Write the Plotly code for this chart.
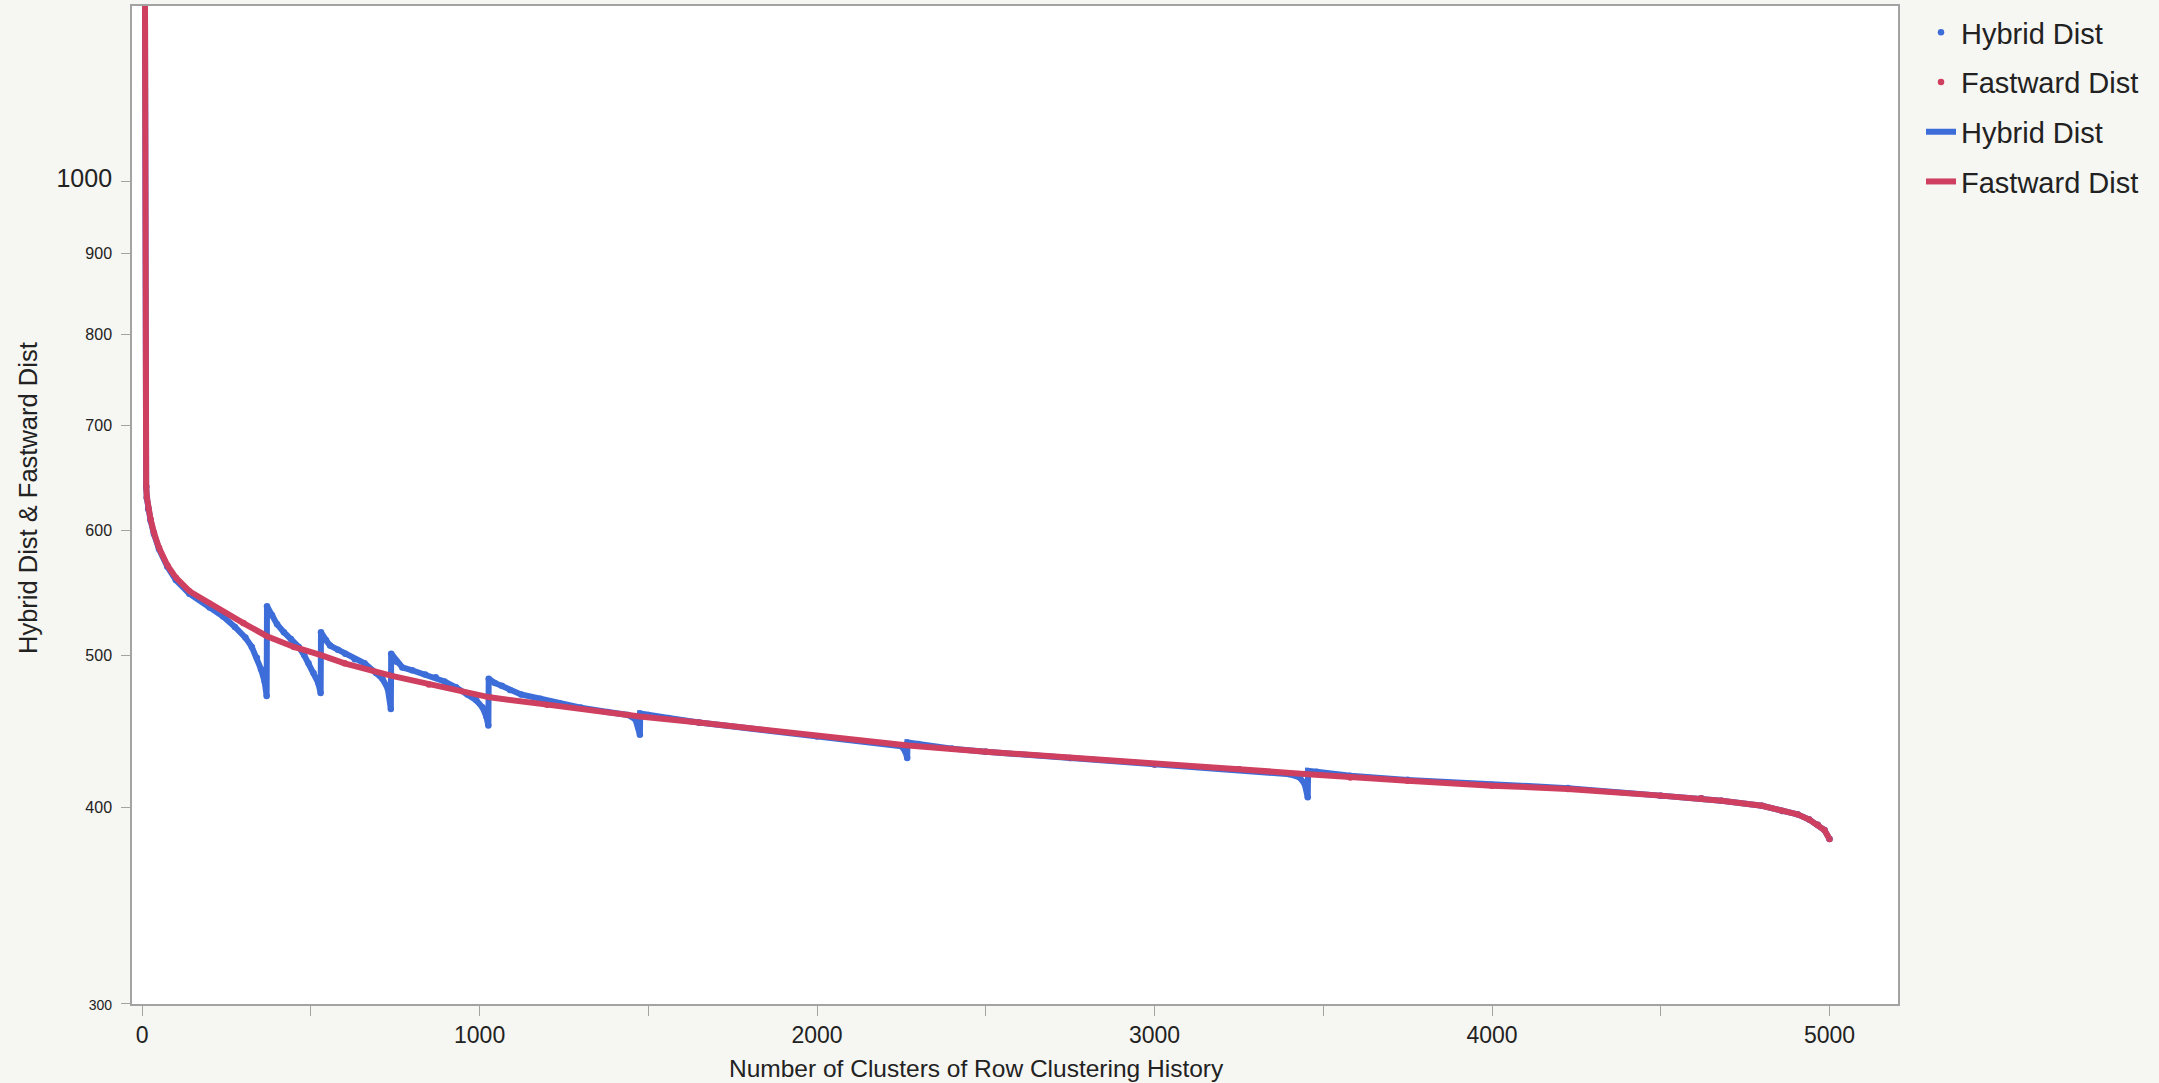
import plotly.graph_objects as go

# ---------------- data ----------------
fast_x = [1, 3, 6, 9, 11, 12, 14, 18, 25, 35, 50, 75, 100, 140, 200, 250, 300, 370, 450,
          530, 600, 740, 850, 1030, 1200, 1475, 1650, 2000, 2270, 2500, 2750, 3000, 3250,
          3455, 3580, 3750, 4000, 4225, 4500, 4620, 4680, 4800, 4860, 4905, 4940, 4965,
          4985, 5000]
fast_y = [6000, 3500, 2200, 1600, 1350, 640, 630, 620, 610, 598, 585, 570, 560, 549, 539,
          531, 524, 514, 506, 500, 494, 485, 479, 470, 465, 457, 453, 444, 438, 434, 430,
          426, 423, 420, 418, 416, 413, 411, 407, 405.5, 404, 401, 398, 396, 393, 390, 387,
          382]

hyb_x = [1, 3, 6, 9, 11, 12, 14, 18, 25, 35, 50, 75, 100, 140, 200, 240, 275, 306, 325,
         340, 352, 363, 369, 370, 385, 400, 420, 441, 464, 480, 493, 508, 522, 529, 530,
         545, 557, 580, 602, 630, 659, 693, 712, 728, 737, 738, 755, 771, 800, 839, 870,
         896, 930, 964, 990, 1009, 1020, 1026, 1027, 1045, 1066, 1090, 1123, 1180, 1236,
         1300, 1380, 1440, 1462, 1470, 1475, 1476, 1500, 1560, 1650, 2000, 2200, 2250,
         2262, 2267, 2268, 2300, 2400, 2500, 2750, 3000, 3250, 3400, 3430, 3445, 3454,
         3455, 3480, 3580, 3750, 4000, 4225, 4500, 4620, 4680, 4800, 4860, 4905, 4940,
         4965, 4985, 5000]
hyb_y = [6000, 3500, 2200, 1600, 1350, 640, 629, 619, 609, 597, 584, 569, 558, 547, 536,
         529, 521, 513, 506, 498, 490, 481, 471, 537, 530, 523, 517, 512, 506, 500, 494,
         487, 480, 473, 517, 511, 507, 504, 501, 497, 494, 487, 483, 476, 462, 501, 495,
         491, 489, 486, 484, 481, 477, 472, 468, 463, 457, 451, 483, 480, 478, 475, 472,
         469, 466, 463, 460, 458, 455, 450, 445, 459, 458, 456, 453, 444, 439.5, 437.5,
         434, 430, 440, 439, 436, 434, 430, 426, 423, 420, 418, 414, 406, 422, 421.5, 419,
         416.5, 413.5, 411.5, 407, 405.5, 404, 401, 398, 396, 393, 390, 387, 382]

x_tick_vals = [0, 1000, 2000, 3000, 4000, 5000]
y_tick_vals = [300, 400, 500, 600, 700, 800, 900, 1000]
y_tick_sizes = [14, 16, 16, 16, 16, 16, 16, 25]

series_names = ["Hybrid Dist", "Fastward Dist"]
x_title = "Number of Clusters of Row Clustering History"
y_title = "Hybrid Dist & Fastward Dist"

# ---------------- style ----------------
BLUE = "#3d6dd8"
RED = "#cf3f5f"
FONT = "Liberation Sans, Arial, Helvetica, sans-serif"
AXC = "#a3a3a3"

W, H = 2159, 1083
L, R, T, B = 132, 261, 4, 79

fig = go.Figure()
fig.add_trace(go.Scatter(x=hyb_x, y=hyb_y, mode="markers", name=series_names[0],
                         legendgroup="a", marker=dict(color=BLUE, size=6.5)))
fig.add_trace(go.Scatter(x=fast_x, y=fast_y, mode="markers", name=series_names[1],
                         legendgroup="b", marker=dict(color=RED, size=6.5)))
fig.add_trace(go.Scatter(x=hyb_x, y=hyb_y, mode="lines", name=series_names[0],
                         legendgroup="c", line=dict(color=BLUE, width=6)))
fig.add_trace(go.Scatter(x=fast_x, y=fast_y, mode="lines", name=series_names[1],
                         legendgroup="d", line=dict(color=RED, width=6)))

y_tick_text = ['<span style="font-size:%dpx">%d</span>' % (s, v)
               for v, s in zip(y_tick_vals, y_tick_sizes)]

plot_w = W - L - R
plot_h = H - T - B

fig.update_layout(
    width=W, height=H,
    margin=dict(l=L, r=R, t=T, b=B, pad=0),
    paper_bgcolor="#f6f6f2",
    plot_bgcolor="#ffffff",
    font=dict(family=FONT, color="#222222", size=16),
    showlegend=True,
    legend=dict(x=(1921 - L) / plot_w, xanchor="left", y=1 - (5 - T) / plot_h,
                yanchor="top", font=dict(size=29, family=FONT, color="#222222"),
                bgcolor="rgba(0,0,0,0)", tracegroupgap=9, traceorder="grouped"),
    xaxis=dict(range=[-30, 5203], tickvals=x_tick_vals, ticks="outside", ticklen=10,
               tickcolor=AXC, tickfont=dict(size=23, family=FONT),
               showline=True, linecolor=AXC, linewidth=1.5, mirror=True,
               showgrid=False, zeroline=False,
               minor=dict(dtick=500, tick0=0, ticks="outside", ticklen=10,
                          tickcolor=AXC, showgrid=False)),
    yaxis=dict(type="log", range=[2.4771, 3.1117], tickvals=y_tick_vals,
               ticktext=y_tick_text, ticks="outside", ticklen=9, tickcolor=AXC,
               tickfont=dict(size=16, family=FONT), ticklabelstandoff=6,
               showline=True, linecolor=AXC, linewidth=1.5, mirror=True,
               showgrid=False, zeroline=False),
    annotations=[
        dict(text=x_title, xref="paper", yref="paper", x=(976 - L) / plot_w,
             y=-(1069 - (H - B)) / plot_h, xanchor="center", yanchor="middle",
             showarrow=False, font=dict(size=24.5, family=FONT, color="#222222")),
        dict(text=y_title, xref="paper", yref="paper", x=(28 - L) / plot_w,
             y=((H - B) - 497) / plot_h, xanchor="center", yanchor="middle",
             textangle=-90, showarrow=False,
             font=dict(size=25.5, family=FONT, color="#222222")),
    ],
)

fig.write_html("out.html")
